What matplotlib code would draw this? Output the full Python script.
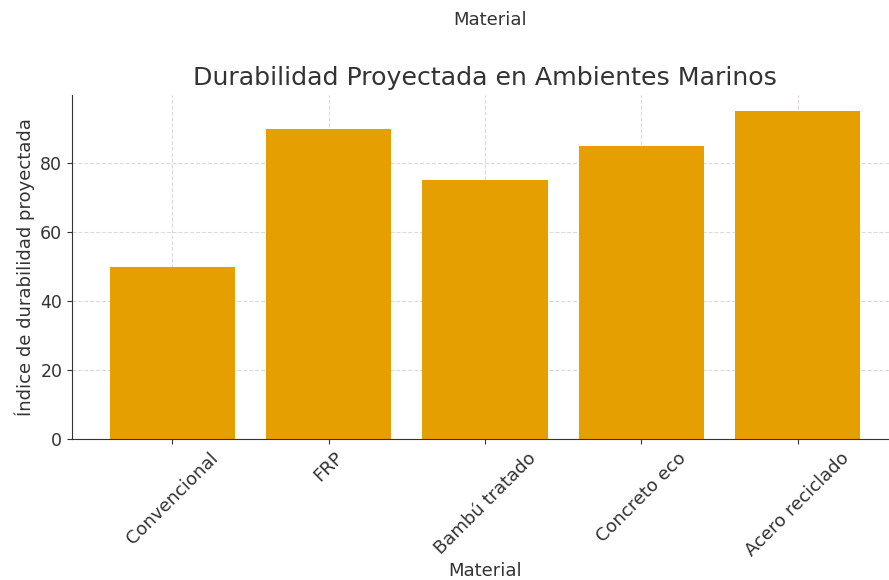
import matplotlib
matplotlib.use("Agg")
import matplotlib.pyplot as plt

categories = ["Convencional", "FRP", "Bambú tratado", "Concreto eco", "Acero reciclado"]
values = [50, 90, 75, 85, 95]

fig = plt.figure(figsize=(8.89, 5.80), dpi=100)
ax = fig.add_axes([72/889, (580-439)/580, 826/889, 344/580])

ax.bar(categories, values, width=0.8, color="#E69F00", zorder=2)
ax.set_axisbelow(True)
ax.grid(True, linestyle="--", color="#cccccc", linewidth=0.8, alpha=0.7)

ax.set_title("Durabilidad Proyectada en Ambientes Marinos", fontsize=18.2, color="#333333", pad=7)
ax.set_xlabel("Material", fontsize=13, color="#333333", labelpad=2)
ax.set_ylabel("Índice de durabilidad proyectada", fontsize=13, color="#333333")
ax.tick_params(axis="x", labelrotation=45, labelsize=13, colors="#333333")
ax.tick_params(axis="y", labelsize=12.5, colors="#333333")
ax.set_yticks([0, 20, 40, 60, 80])

for s in ["top", "right"]:
    ax.spines[s].set_visible(False)
for s in ["left", "bottom"]:
    ax.spines[s].set_color("#333333")

fig.text(490/889, 1 - 20/580, "Material", ha="center", va="center", fontsize=13, color="#333333")

fig.savefig("out.png", dpi=100)
